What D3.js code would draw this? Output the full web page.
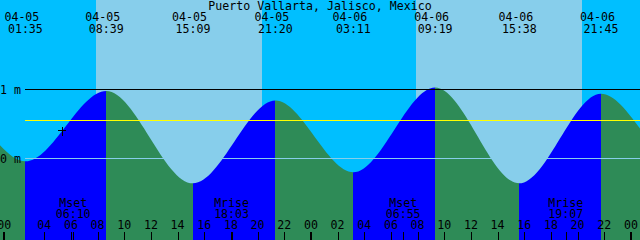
<!DOCTYPE html>
<html>
<head>
<meta charset="utf-8">
<script src="https://cdn.jsdelivr.net/npm/d3@7"></script>
<style>
body{margin:0;background:#fff;}
svg{display:block;}
text{font-family:"DejaVu Sans Mono",monospace;font-size:11.6px;fill:#000;}
</style>
</head>
<body>
<script>
(function(){

//pseudo-global data
var stationName = "Puerto Vallarta, Jalisco, Mexico";

//tide extremes, local clock (summer time starts 04-05 02:00)
var tideDates  = ["04-05","04-05","04-05","04-05","04-06","04-06","04-06","04-06"];
var tideClocks = ["01:35","08:39","15:09","21:20","03:11","09:19","15:38","21:45"];
var tideLevels = [-0.04, 0.98, -0.36, 0.84, -0.20, 1.03, -0.36, 0.94];

//extremes just outside the window so the curve runs off both edges
var edgeDates  = ["04-04","04-04","04-07","04-07"];
var edgeClocks = ["13:30","19:54","03:54","10:00"];
var edgeLevels = [-0.30, 0.85, -0.15, 0.90];

//sun and moon
var sunDates     = ["04-05","04-06"];
var sunriseClocks = ["07:53","07:53"];
var sunsetClocks  = ["20:20","20:20"];
var moonDates  = ["04-05","04-05","04-06","04-06"];
var moonNames  = ["Mset","Mrise","Mset","Mrise"];
var moonClocks = ["06:10","18:03","06:55","19:07"];

//depth lines
var depthLevels = [1, 0];
var depthLabels = ["1 m", "0 m"];
var mslLevel = 0.55;

//current time mark
var nowDate = "04-05", nowClock = "05:20", nowLevel = 0.40;

//hour ticks
var tickDays  = ["04-05","04-06","04-07"];
var tickHours = [0,2,4,6,8,10,12,14,16,18,20,22];

var dayList = ["04-04","04-05","04-06","04-07"];

var width = 640, height = 240;

//colours (xtide defaults)
var dayColor = "#87CEEB", nightColor = "#00BFFF",
    floodColor = "#0000FF", ebbColor = "#2E8B57",
    mslColor = "#FFFF00", datumColor = "#87CEEB";

//local clock -> elapsed hours since 04-05 00:00 standard time
function toHours(date, clock){
    var parts = clock.split(":");
    var t = (dayList.indexOf(date) - 1) * 24 + (+parts[0]) + (+parts[1]) / 60;
    if (t >= 3) t -= 1;   //clocks jumped 02:00 -> 03:00
    return t;
};

var x = d3.scaleLinear()
    .domain([-0.32, 47.68])
    .range([0, width]);

var y = d3.scaleLinear()
    .domain([-81.5 / 69, 158.5 / 69])
    .range([height, 0]);

var svg = d3.select("body")
    .append("svg")
    .attr("width", width)
    .attr("height", height);

//sky: night / day bands
var sunrise = sunDates.map(function(d, i){ return toHours(d, sunriseClocks[i]); });
var sunset  = sunDates.map(function(d, i){ return toHours(d, sunsetClocks[i]); });
var bounds = [x.domain()[0]];
sunrise.forEach(function(r, i){ bounds.push(r, sunset[i]); });
bounds.push(x.domain()[1]);

svg.selectAll(".sky")
    .data(d3.pairs(bounds))
    .enter()
    .append("rect")
    .attr("class", "sky")
    .attr("x", function(d){ return x(d[0]); })
    .attr("y", 0)
    .attr("width", function(d){ return x(d[1]) - x(d[0]); })
    .attr("height", height)
    .attr("shape-rendering", "crispEdges")
    .style("fill", function(d, i){ return i % 2 ? dayColor : nightColor; });

//water: flood / ebb bands clipped to the tide curve
var tides = tideDates.map(function(d, i){
    return {t: toHours(d, tideClocks[i]), level: tideLevels[i], date: d, clock: tideClocks[i]};
});
var curvePts = edgeDates.map(function(d, i){
    return {t: toHours(d, edgeClocks[i]), level: edgeLevels[i]};
}).concat(tides).sort(function(a, b){ return a.t - b.t; });

var area = d3.area()
    .x(function(d){ return x(d.t); })
    .y0(height)
    .y1(function(d){ return y(d.level); })
    .curve(d3.curveMonotoneX);

svg.append("clipPath")
    .attr("id", "water")
    .append("path")
    .attr("d", area(curvePts));

svg.append("g")
    .attr("clip-path", "url(#water)")
    .selectAll("rect")
    .data(d3.pairs(curvePts))
    .enter()
    .append("rect")
    .attr("x", function(d){ return x(d[0].t); })
    .attr("y", 0)
    .attr("width", function(d){ return x(d[1].t) - x(d[0].t); })
    .attr("height", height)
    .attr("shape-rendering", "crispEdges")
    .style("fill", function(d){ return d[1].level > d[0].level ? floodColor : ebbColor; });

//depth lines and labels
svg.selectAll(".depth")
    .data(depthLevels)
    .enter()
    .append("line")
    .attr("class", "depth")
    .attr("x1", 25).attr("x2", width)
    .attr("y1", function(d){ return y(d); })
    .attr("y2", function(d){ return y(d); })
    .attr("shape-rendering", "crispEdges")
    .style("stroke", function(d){ return d == 0 ? datumColor : "#000"; });

svg.append("line")
    .attr("x1", 25).attr("x2", width)
    .attr("y1", y(mslLevel)).attr("y2", y(mslLevel))
    .attr("shape-rendering", "crispEdges")
    .style("stroke", mslColor);

svg.selectAll(".depthLabel")
    .data(depthLevels)
    .enter()
    .append("text")
    .attr("x", 0)
    .attr("y", function(d){ return y(d) + 4; })
    .text(function(d, i){ return depthLabels[i]; });

//current time "+"
var nx = x(toHours(nowDate, nowClock)), ny = y(nowLevel);
svg.append("path")
    .attr("d", "M" + (nx - 4) + "," + ny + "H" + (nx + 4) + "M" + nx + "," + (ny - 4) + "V" + (ny + 5))
    .attr("shape-rendering", "crispEdges")
    .style("stroke", "#000");

//title
svg.append("text")
    .attr("x", width / 2)
    .attr("y", 10)
    .attr("text-anchor", "middle")
    .text(stationName);

//extreme labels along the top
var tideLabels = svg.selectAll(".tideLabel")
    .data(tides)
    .enter()
    .append("g")
    .attr("class", "tideLabel");
tideLabels.append("text")
    .attr("x", function(d){ return x(d.t) - 3.5; })
    .attr("y", 21)
    .attr("text-anchor", "middle")
    .text(function(d){ return d.date; });
tideLabels.append("text")
    .attr("x", function(d){ return x(d.t); })
    .attr("y", 33)
    .attr("text-anchor", "middle")
    .text(function(d){ return d.clock; });

//moon labels
var moon = moonDates.map(function(d, i){
    return {t: toHours(d, moonClocks[i]), name: moonNames[i], clock: moonClocks[i]};
});
var moonLabels = svg.selectAll(".moonLabel")
    .data(moon)
    .enter()
    .append("g")
    .attr("class", "moonLabel");
moonLabels.append("text")
    .attr("x", function(d){ return x(d.t); })
    .attr("y", 207)
    .attr("text-anchor", "middle")
    .text(function(d){ return d.name; });
moonLabels.append("text")
    .attr("x", function(d){ return x(d.t); })
    .attr("y", 218)
    .attr("text-anchor", "middle")
    .text(function(d){ return d.clock; });
moonLabels.append("line")
    .attr("x1", function(d){ return Math.round(x(d.t)) + 0.5; })
    .attr("x2", function(d){ return Math.round(x(d.t)) + 0.5; })
    .attr("y1", 232).attr("y2", height)
    .style("stroke", "#000");

//hour ticks along the bottom
var ticks = [];
tickDays.forEach(function(day){
    tickHours.forEach(function(h){
        if (day == "04-05" && h == 2) return;   //02:00 never happened
        var clock = (h < 10 ? "0" : "") + h + ":00";
        var t = toHours(day, clock);
        if (t >= x.domain()[0] && t <= x.domain()[1]) ticks.push({t: t, h: h});
    });
});

svg.selectAll(".tick")
    .data(ticks)
    .enter()
    .append("line")
    .attr("class", "tick")
    .attr("x1", function(d){ return Math.round(x(d.t)) + (d.h == 0 ? 0 : 0.5); })
    .attr("x2", function(d){ return Math.round(x(d.t)) + (d.h == 0 ? 0 : 0.5); })
    .attr("y1", 232).attr("y2", height)
    .style("stroke", "#000")
    .style("stroke-width", function(d){ return d.h == 0 ? 2 : 1; });

svg.selectAll(".tickLabel")
    .data(ticks)
    .enter()
    .append("text")
    .attr("class", "tickLabel")
    .attr("x", function(d){ return x(d.t); })
    .attr("y", 229)
    .attr("text-anchor", "middle")
    .text(function(d){ return (d.h < 10 ? "0" : "") + d.h; });

})();
</script>
</body>
</html>
